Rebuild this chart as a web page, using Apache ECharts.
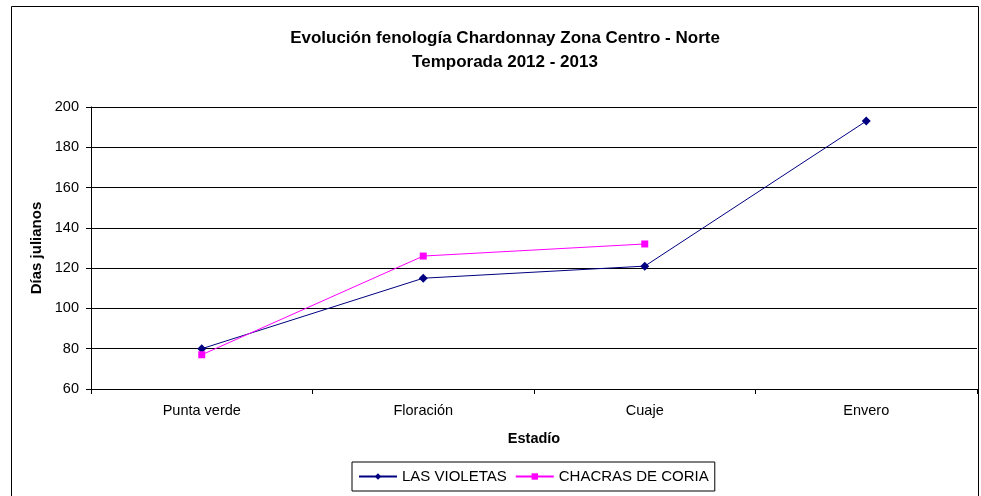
<!DOCTYPE html>
<html><head><meta charset="utf-8">
<script src="https://cdn.jsdelivr.net/npm/echarts@6/dist/echarts.min.js"></script>
<style>html,body{margin:0;padding:0;background:#fff}#c{width:981px;height:496px}</style>
</head><body><div id="c"></div>
<script>
const categories = ['Punta verde', 'Floración', 'Cuaje', 'Envero'];
const lasVioletas = [80, 115, 121, 193];
const chacrasDeCoria = [77, 126, 132, null];
const yTicks = {min: 60, max: 200, interval: 20};
const font = 'Liberation Sans, Arial, sans-serif';

const chart = echarts.init(document.getElementById('c'), null, {renderer: 'canvas'});
chart.setOption({
  backgroundColor: '#fff',
  animation: false,
  graphic: [{type: 'rect', shape: {x: 11.5, y: 6.5, width: 967, height: 500}, style: {fill: 'none', stroke: '#000', lineWidth: 1}, silent: true}],
  title: {
    text: 'Evolución fenología Chardonnay Zona Centro - Norte\nTemporada 2012 - 2013',
    left: 500, textAlign: 'center', top: 21,
    textStyle: {fontFamily: font, fontSize: 17, fontWeight: 'bold', color: '#000', lineHeight: 24}
  },
  legend: {
    top: 462, left: 352,
    data: ['LAS VIOLETAS', 'CHACRAS DE CORIA'],
    borderColor: '#000', borderWidth: 1, borderRadius: 0,
    padding: [7, 6, 7, 6],
    itemWidth: 38, itemHeight: 8, itemGap: 8,
    textStyle: {fontFamily: font, fontSize: 15, color: '#000'}
  },
  grid: {left: 91, right: 4, top: 107, bottom: 107, containLabel: false},
  xAxis: {
    type: 'category', data: categories, boundaryGap: true,
    name: 'Estadío', nameLocation: 'middle', nameGap: 42,
    nameTextStyle: {fontFamily: font, fontSize: 14.5, fontWeight: 'bold', color: '#000'},
    axisLine: {lineStyle: {color: '#000', width: 1}},
    axisTick: {show: true, length: 5, lineStyle: {color: '#000'}},
    axisLabel: {fontFamily: font, fontSize: 14.5, color: '#000', margin: 14},
    splitLine: {show: false}
  },
  yAxis: {
    type: 'value', min: yTicks.min, max: yTicks.max, interval: yTicks.interval,
    name: 'Días julianos', nameLocation: 'middle', nameGap: 45, nameRotate: 90,
    nameTextStyle: {fontFamily: font, fontSize: 15, fontWeight: 'bold', color: '#000'},
    axisLine: {show: true, lineStyle: {color: '#000', width: 1}},
    axisTick: {show: true, length: 5, lineStyle: {color: '#000'}},
    axisLabel: {fontFamily: font, fontSize: 14.5, color: '#000', margin: 12},
    splitLine: {show: true, lineStyle: {color: '#000', width: 1}}
  },
  series: [
    {name: 'LAS VIOLETAS', type: 'line', data: lasVioletas, symbol: 'diamond', symbolSize: 9,
     color: '#000080', lineStyle: {width: 1, color: '#000080'}, itemStyle: {color: '#000080'}},
    {name: 'CHACRAS DE CORIA', type: 'line', data: chacrasDeCoria, symbol: 'rect', symbolSize: 7,
     connectNulls: false,
     color: '#FF00FF', lineStyle: {width: 1, color: '#FF00FF'}, itemStyle: {color: '#FF00FF'}}
  ]
});
</script></body></html>
